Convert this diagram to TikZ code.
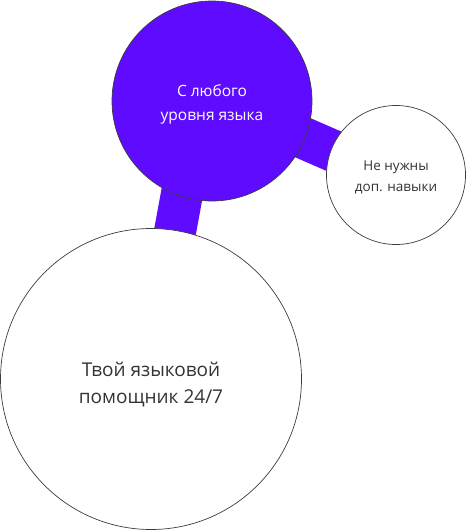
\documentclass[tikz,border=0pt]{standalone}
\usepackage{fontspec}
\setmainfont{Open Sans}
\definecolor{violet}{RGB}{94,11,255}
\definecolor{txt}{RGB}{51,51,51}
\definecolor{rim}{RGB}{60,60,60}
\begin{document}
\begin{tikzpicture}[x=1pt,y=-1pt,
  bubble/.style={circle,draw=rim,line width=0.7pt,inner sep=0pt},
  caption/.style={align=center,text=txt,inner sep=0pt},
  band/.style={draw=violet,line width=42pt}]
\useasboundingbox (0,0) rectangle (470,530);
% connector ends (hidden under circles)
\coordinate (b1a) at (190,150);
\coordinate (b1b) at (168,270);
\coordinate (b2a) at (260,119);
\coordinate (b2b) at (370,167);
\draw[band] (b1a) -- (b1b);
\draw[band] (b2a) -- (b2b);
\node[bubble,fill=violet,minimum size=200pt] (lvl) at (212,101) {};
\node[bubble,fill=white,minimum size=139pt] (skill) at (396,175) {};
\node[bubble,fill=white,minimum size=301pt] (help) at (151,379) {};
\node[caption,text=white,font=\fontsize{15.5}{24}\selectfont,yshift=-3pt] (lvlt) at (lvl.center) {С любого\\уровня языка};
\node[caption,font=\fontsize{13.5}{21}\selectfont,yshift=-2pt] (skillt) at (skill.center) {Не нужны\\доп. навыки};
\node[caption,font=\fontsize{19}{27}\selectfont,yshift=-6pt] (helpt) at (help.center) {Твой языковой\\помощник 24/7};
\end{tikzpicture}
\end{document}
